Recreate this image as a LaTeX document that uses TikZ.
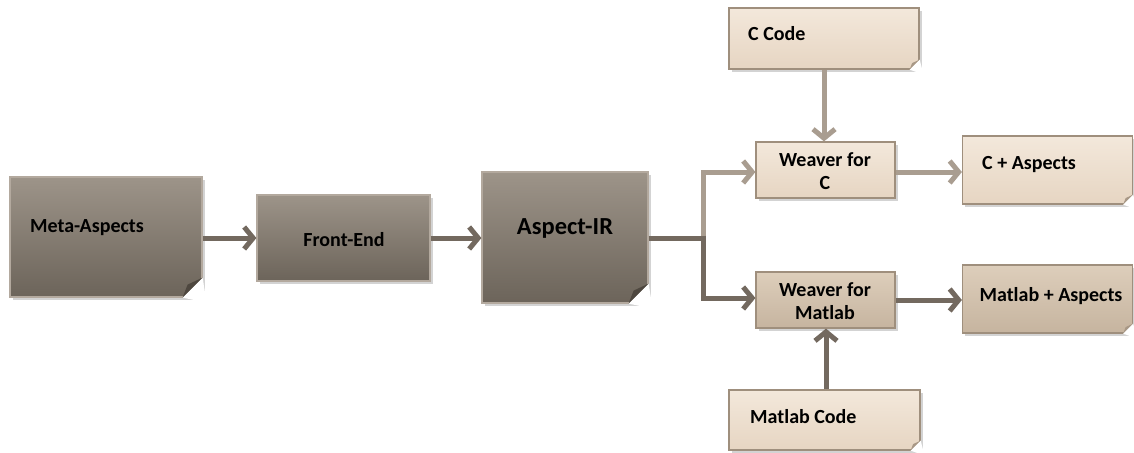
\documentclass[tikz,border=0pt]{standalone}
\usepackage{fontspec}
\setmainfont{Carlito}
\usetikzlibrary{arrows.meta,shadows}
\definecolor{darkTop}{HTML}{9D9489}
\definecolor{darkBot}{HTML}{6C645A}
\definecolor{darkEdge}{HTML}{B3A99E}
\definecolor{darkFold}{HTML}{4E473F}
\definecolor{lightTop}{HTML}{F3E8DB}
\definecolor{lightBot}{HTML}{E6D5C2}
\definecolor{tanTop}{HTML}{DDCEBB}
\definecolor{tanBot}{HTML}{C6B49F}
\definecolor{tanEdge}{HTML}{9F8F7D}
\definecolor{tanFold}{HTML}{A89886}
\definecolor{arrDark}{HTML}{73695F}
\definecolor{arrLight}{HTML}{A99D90}
\tikzset{
  box/.style={draw, line width=1.2pt, inner sep=0pt,
    drop shadow={shadow xshift=2.5pt,shadow yshift=-3pt,opacity=0.35}},
  darkbox/.style={box, draw=darkEdge, top color=darkTop, bottom color=darkBot},
  lightbox/.style={box, draw=tanEdge, top color=lightTop, bottom color=lightBot},
  tanbox/.style={box, draw=tanEdge, top color=tanTop, bottom color=tanBot},
  lbl/.style={font=\bfseries\fontsize{20}{23}\selectfont, text=black, inner sep=0pt, align=center},
  flowdark/.style={draw=arrDark, line width=5pt, -{Straight Barb[length=9pt,width=22pt]}},
  flowlight/.style={draw=arrLight, line width=5pt, -{Straight Barb[length=9pt,width=22pt]}},
  plaindark/.style={draw=arrDark, line width=5pt},
}
\newcommand\foldcorner[3]{%
  \fill[white] ([xshift=-#2]#1.south east) -- ([xshift=4pt,yshift=-5pt]#1.south east) -- ([yshift=#2]#1.south east) -- cycle;
  \fill[#3] ([xshift=-#2]#1.south east) -- ([yshift=#2]#1.south east) -- ([xshift=-0.75*#2,yshift=0.65*#2]#1.south east) -- cycle;
}
\begin{document}
\begin{tikzpicture}[x=1pt,y=-1pt]
\useasboundingbox (0,0) rectangle (1134,452);
% boxes
\node[darkbox, minimum width=192pt, minimum height=120pt] (meta) at (106,237) {};
\node[darkbox, minimum width=173pt, minimum height=86pt] (front) at (343.5,238) {};
\node[darkbox, minimum width=166pt, minimum height=131pt] (air) at (565,237.5) {};
\node[lightbox, minimum width=190pt, minimum height=61pt] (cc) at (824,38.5) {};
\node[lightbox, minimum width=139pt, minimum height=56pt] (wc) at (825.5,170) {};
\node[lightbox, minimum width=170pt, minimum height=68pt] (ca) at (1047.5,170) {};
\node[tanbox, minimum width=139pt, minimum height=56pt] (wm) at (825.5,300) {};
\node[tanbox, minimum width=170pt, minimum height=68pt] (ma) at (1047.5,299) {};
\node[lightbox, minimum width=191pt, minimum height=60pt] (mc) at (824.5,420) {};
% folded corners
\foldcorner{meta}{20pt}{darkFold}
\foldcorner{air}{20pt}{darkFold}
\foldcorner{cc}{10pt}{tanFold}
\foldcorner{ca}{10pt}{tanFold}
\foldcorner{ma}{10pt}{tanFold}
\foldcorner{mc}{10pt}{tanFold}
% labels
\node[lbl, anchor=west] (metaT) at (30,228) {Meta-Aspects};
\node[lbl] (frontT) at (344,240) {Front-End};
\node[lbl, font=\bfseries\fontsize{24.5}{28}\selectfont] (airT) at (565,228) {Aspect-IR};
\node[lbl, anchor=west] (ccT) at (748,34) {C Code};
\node[lbl] (wcT) at (825,171) {Weaver for\\C};
\node[lbl, anchor=west] (caT) at (982,165) {C + Aspects};
\node[lbl] (wmT) at (825,301) {Weaver for\\Matlab};
\node[lbl] (maT) at (1051,296) {Matlab + Aspects};
\node[lbl, anchor=west] (mcT) at (750,417) {Matlab Code};
% connectors
\coordinate (br) at (703,238);
\draw[flowdark] (meta.east |- 0,238) -- (front.west |- 0,238);
\draw[flowdark] (front.east |- 0,238) -- (air.west |- 0,238);
\draw[plaindark, line cap=butt] (air.east |- br) -- (br);
\draw[flowlight] ([yshift=-2.5pt]br) |- (wc.west |- 0,172);
\draw[flowdark] ([yshift=2.5pt]br) |- (wm.west |- 0,298);
\draw[flowlight] (cc.south) -- (cc.south |- wc.north);
\draw[flowlight] (wc.east |- 0,172) -- (ca.west |- 0,172);
\draw[flowdark] (wm.east) -- (ma.west |- wm.east);
\draw[flowdark] (mc.north -| 826,0) -- (wm.south -| 826,0);
\end{tikzpicture}
\end{document}
